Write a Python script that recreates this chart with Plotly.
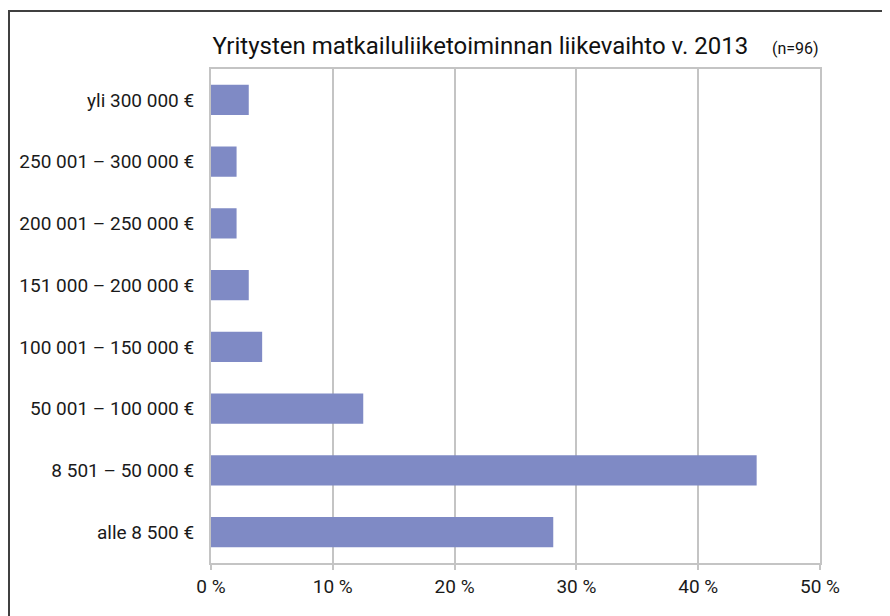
import plotly.graph_objects as go

categories = ["alle 8 500 €", "8 501 – 50 000 €", "50 001 – 100 000 €",
              "100 001 – 150 000 €", "151 000 – 200 000 €", "200 001 – 250 000 €",
              "250 001 – 300 000 €", "yli 300 000 €"]
values = [28.1, 44.8, 12.5, 4.2, 3.1, 2.1, 2.1, 3.1]
x_ticks = [0, 10, 20, 30, 40, 50]
x_tick_text = ["0 %", "10 %", "20 %", "30 %", "40 %", "50 %"]
title_text = "Yritysten matkailuliiketoiminnan liikevaihto v. 2013"
n_text = "(n=96)"

FONT = "Roboto"
fig = go.Figure(go.Bar(
    x=values, y=categories, orientation="h",
    marker=dict(color="#7F8AC5", line=dict(width=0)),
    hoverinfo="x+y",
))

W, H = 882, 608
ML, MR, MT, MB = 203, 70, 61, 53
PW = W - ML - MR
PH = H - MT - MB

fig.update_layout(
    width=W, height=H,
    margin=dict(l=ML, r=MR, t=MT, b=MB),
    paper_bgcolor="white", plot_bgcolor="white",
    bargap=0.51,
    showlegend=False,
    font=dict(family=FONT, size=19, color="#1a1a1a"),
    title=dict(
        text=title_text + "&nbsp;&nbsp;&nbsp;&nbsp;<span style='font-size:16px'>" + n_text + "</span>",
        x=0.5, xref="paper", xanchor="center",
        y=1 - 38 / H, yref="container", yanchor="middle",
        font=dict(family=FONT, size=24, color="#111111"),
    ),
    xaxis=dict(
        range=[0, 50], tickmode="array", tickvals=x_ticks, ticktext=x_tick_text,
        showgrid=True, gridcolor="#c4c4c4", gridwidth=2,
        showline=True, linecolor="#c4c4c4", linewidth=2, mirror=True,
        ticks="outside", ticklen=5, tickcolor="#c4c4c4", tickwidth=2,
        zeroline=False, fixedrange=True,
        tickfont=dict(family=FONT, size=19, color="#1a1a1a"),
    ),
    yaxis=dict(
        categoryorder="array", categoryarray=categories,
        showline=True, linecolor="#c4c4c4", linewidth=2, mirror=True,
        showgrid=False, ticks="", ticklabelstandoff=11,
        fixedrange=True,
        tickfont=dict(family=FONT, size=19, color="#1a1a1a"),
    ),
    shapes=[dict(
        type="rect", xref="paper", yref="paper",
        x0=-(ML - 1) / PW, x1=1.3, y0=-0.3, y1=(PH + MT - 3) / PH,
        line=dict(color="#404040", width=2), fillcolor="rgba(0,0,0,0)", layer="above",
    )],
)

fig.write_html("out.html")
